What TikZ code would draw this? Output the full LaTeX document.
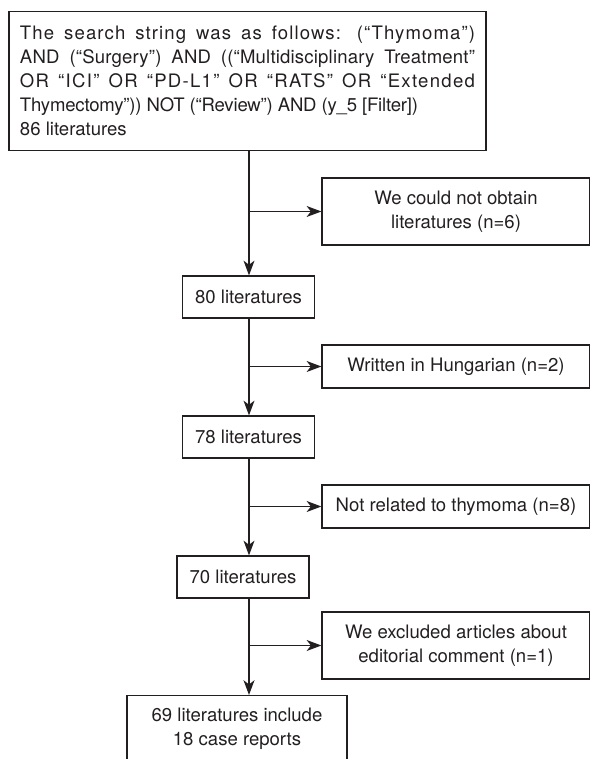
\documentclass[tikz,border=0pt]{standalone}
\usepackage{fontspec}
\setmainfont{TeX Gyre Heros}
\usetikzlibrary{arrows.meta}
\definecolor{ink}{HTML}{231F20}
% justified line with a little tracking, as in the original
\newcommand\spreadline[2]{\makebox[11.375cm][s]{\addfontfeature{LetterSpace=#1}#2}}
\begin{document}
\begin{tikzpicture}[x=1cm,y=1cm,>={Stealth[length=10.5pt,width=7.8pt,inset=3pt]},line width=.85pt,color=ink,
  boxfont/.style={font=\fontsize{13.2}{17.1}\selectfont},
  mainbox/.style={draw,boxfont,minimum width=3.3cm,minimum height=1.05cm,inner sep=0pt},
  sidebox/.style={draw,boxfont,minimum width=6.7cm,inner sep=0pt,align=center}]
  \useasboundingbox (0,0) rectangle (14.725,18.975);
  \node[draw,boxfont,anchor=north,inner xsep=.275cm,inner ysep=.36cm,align=left] (search) at (6.1875,18.7)
    {\spreadline{6}{The search string was as follows: (“Thymoma”)}\\
     \spreadline{1}{AND (“Surgery”) AND ((“Multidisciplinary Treatment”}\\
     \spreadline{7}{OR “ICI” OR “PD-L1” OR “RATS” OR “Extended}\\
     {\addfontfeature{LetterSpace=-1}Thymectomy”)) NOT (“Review”) AND (y\_5 [Filter])}\\
     86 literatures};
  \coordinate (spine) at (6.225,0);
  \node[mainbox] (n80) at (6.2125,11.55) {80 literatures};
  \node[mainbox] (n78) at (6.2125,8.05) {78 literatures};
  \node[mainbox] (n70) at (6.075,4.55) {70 literatures};
  \node[mainbox,minimum width=5.5cm,minimum height=1.675cm,anchor=north,align=center] (n69) at (5.925,1.6)
    {69 literatures include\\18 case reports};
  \node[sidebox,minimum height=1.675cm] (ex1) at (11.4,13.6875) {We could not obtain\\literatures (n=6)};
  \node[sidebox,minimum height=1.075cm] (ex2) at (11.4,9.8125) {Written in Hungarian (n=2)};
  \node[sidebox,minimum height=1.075cm] (ex3) at (11.4,6.3125) {Not related to thymoma (n=8)};
  \node[sidebox,minimum height=1.675cm] (ex4) at (11.4,2.8375) {We excluded articles about\\editorial comment (n=1)};
  % spine with the side branches
  \draw[->] (search.south -| spine)--(n80.north -| spine);
  \draw[->] (ex1.west -| spine)--(ex1.west);
  \draw[->] (n80.south -| spine)--(n78.north -| spine);
  \draw[->] (ex2.west -| spine)--(ex2.west);
  \draw[->] (n78.south -| spine)--(n70.north -| spine);
  \draw[->] (ex3.west -| spine)--(ex3.west);
  \draw[->] (n70.south -| spine)--(n69.north -| spine);
  \draw[->] (ex4.west -| spine)--(ex4.west);
\end{tikzpicture}
\end{document}
